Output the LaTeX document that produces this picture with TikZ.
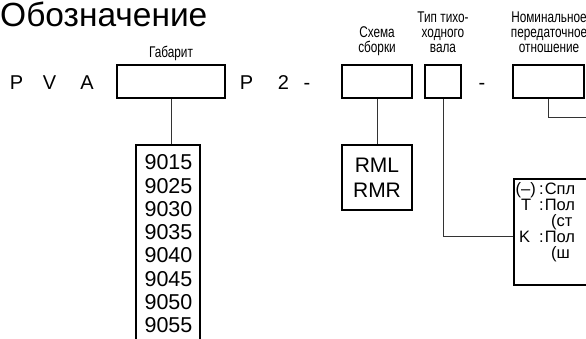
\documentclass[tikz,border=0pt]{standalone}
\usepackage{fontspec}
\setmainfont{Liberation Sans}
\newfontfamily\narrowfont[FakeStretch=0.76]{Liberation Sans}
\begin{document}
\begin{tikzpicture}[x=1pt,y=-1pt,
  box/.style={draw, line width=2pt, inner sep=0pt},
  conn/.style={line width=0.9pt, draw=black!80},
  lab/.style={font=\narrowfont\fontsize{15.5}{15}\selectfont, align=center, inner sep=0pt, anchor=base},
  code/.style={font=\fontsize{20}{20}\selectfont, inner sep=0pt, anchor=base},
  small/.style={font=\fontsize{16.5}{16.5}\selectfont, inner sep=0pt, anchor=base west}]
\useasboundingbox (0,0) rectangle (586,338);

\node[inner sep=0pt, anchor=base west, font=\fontsize{33.5}{33.5}\selectfont] (title) at (0,26.5) {Обозначение};

% code letters
\node[code] (p1) at (16.5,89) {P};
\node[code] (v) at (49.5,89) {V};
\node[code] (a) at (87,89) {A};
\node[code] (p2) at (246.5,89) {P};
\node[code] (two) at (283.5,89) {2};
\node[code] (d1) at (307,89) {-};
\node[code] (d2) at (482,89) {-};

% boxes
\node[box, minimum width=108pt, minimum height=33pt] (gab) at (171,81.5) {};
\node[box, minimum width=70pt, minimum height=33pt] (sch) at (377,81.5) {};
\node[box, minimum width=36pt, minimum height=33pt] (tip) at (443,81.5) {};
\node[box, minimum width=71pt, minimum height=33pt] (nom) at (548.5,81.5) {};

% labels
\node[lab] (lgab) at (171,57) {Габарит};
\node[lab] (lsch) at (377,52.5) {Схема\\сборки};
\node[lab] (ltip) at (443,52.5) {Тип тихо-\\ходного\\вала};
\node[lab] (lnom) at (549,52.5) {Номинальное\\передаточное\\отношение};

% size list
\node[box, anchor=north, minimum width=64pt, minimum height=230pt] (listbox) at (168,144) {};
\node[anchor=north, inner sep=0pt, align=center, font=\fontsize{21.5}{23.3}\selectfont] (nums) at (168.5,154.5)
  {9015\\9025\\9030\\9035\\9040\\9045\\9050\\9055};

% assembly
\node[box, minimum width=70pt, minimum height=65pt, align=center, font=\fontsize{21}{25}\selectfont] (rml) at (377,177.5) {RML\\RMR};

% shaft type box
\node[box, anchor=north west, minimum width=100pt, minimum height=106pt] (shaft) at (513,178) {};
\node[small] (s1a) at (515.5,194) {(–)};
\node[small] (s1b) at (539,194) {:\kern1pt Спл};
\node[small] (s2a) at (521,210) {T};
\node[small] (s2b) at (539,210) {:\kern1pt Пол};
\node[small] (s3) at (551,226) {(ст};
\node[small] (s4a) at (519,242) {K};
\node[small] (s4b) at (539,242) {:\kern1pt Пол};
\node[small] (s5) at (551,258) {(ш};

% connectors
\coordinate (nomend) at (600,117);
\draw[conn] (gab.south) -- (gab.south |- listbox.north);
\draw[conn] (sch.south) -- (rml.north);
\draw[conn] (tip.south) -- (tip.south |- 0,236) -- (shaft.west |- 0,236);
\draw[conn] (nom.south) -- (nom.south |- nomend) -- (nomend);
\end{tikzpicture}
\end{document}
